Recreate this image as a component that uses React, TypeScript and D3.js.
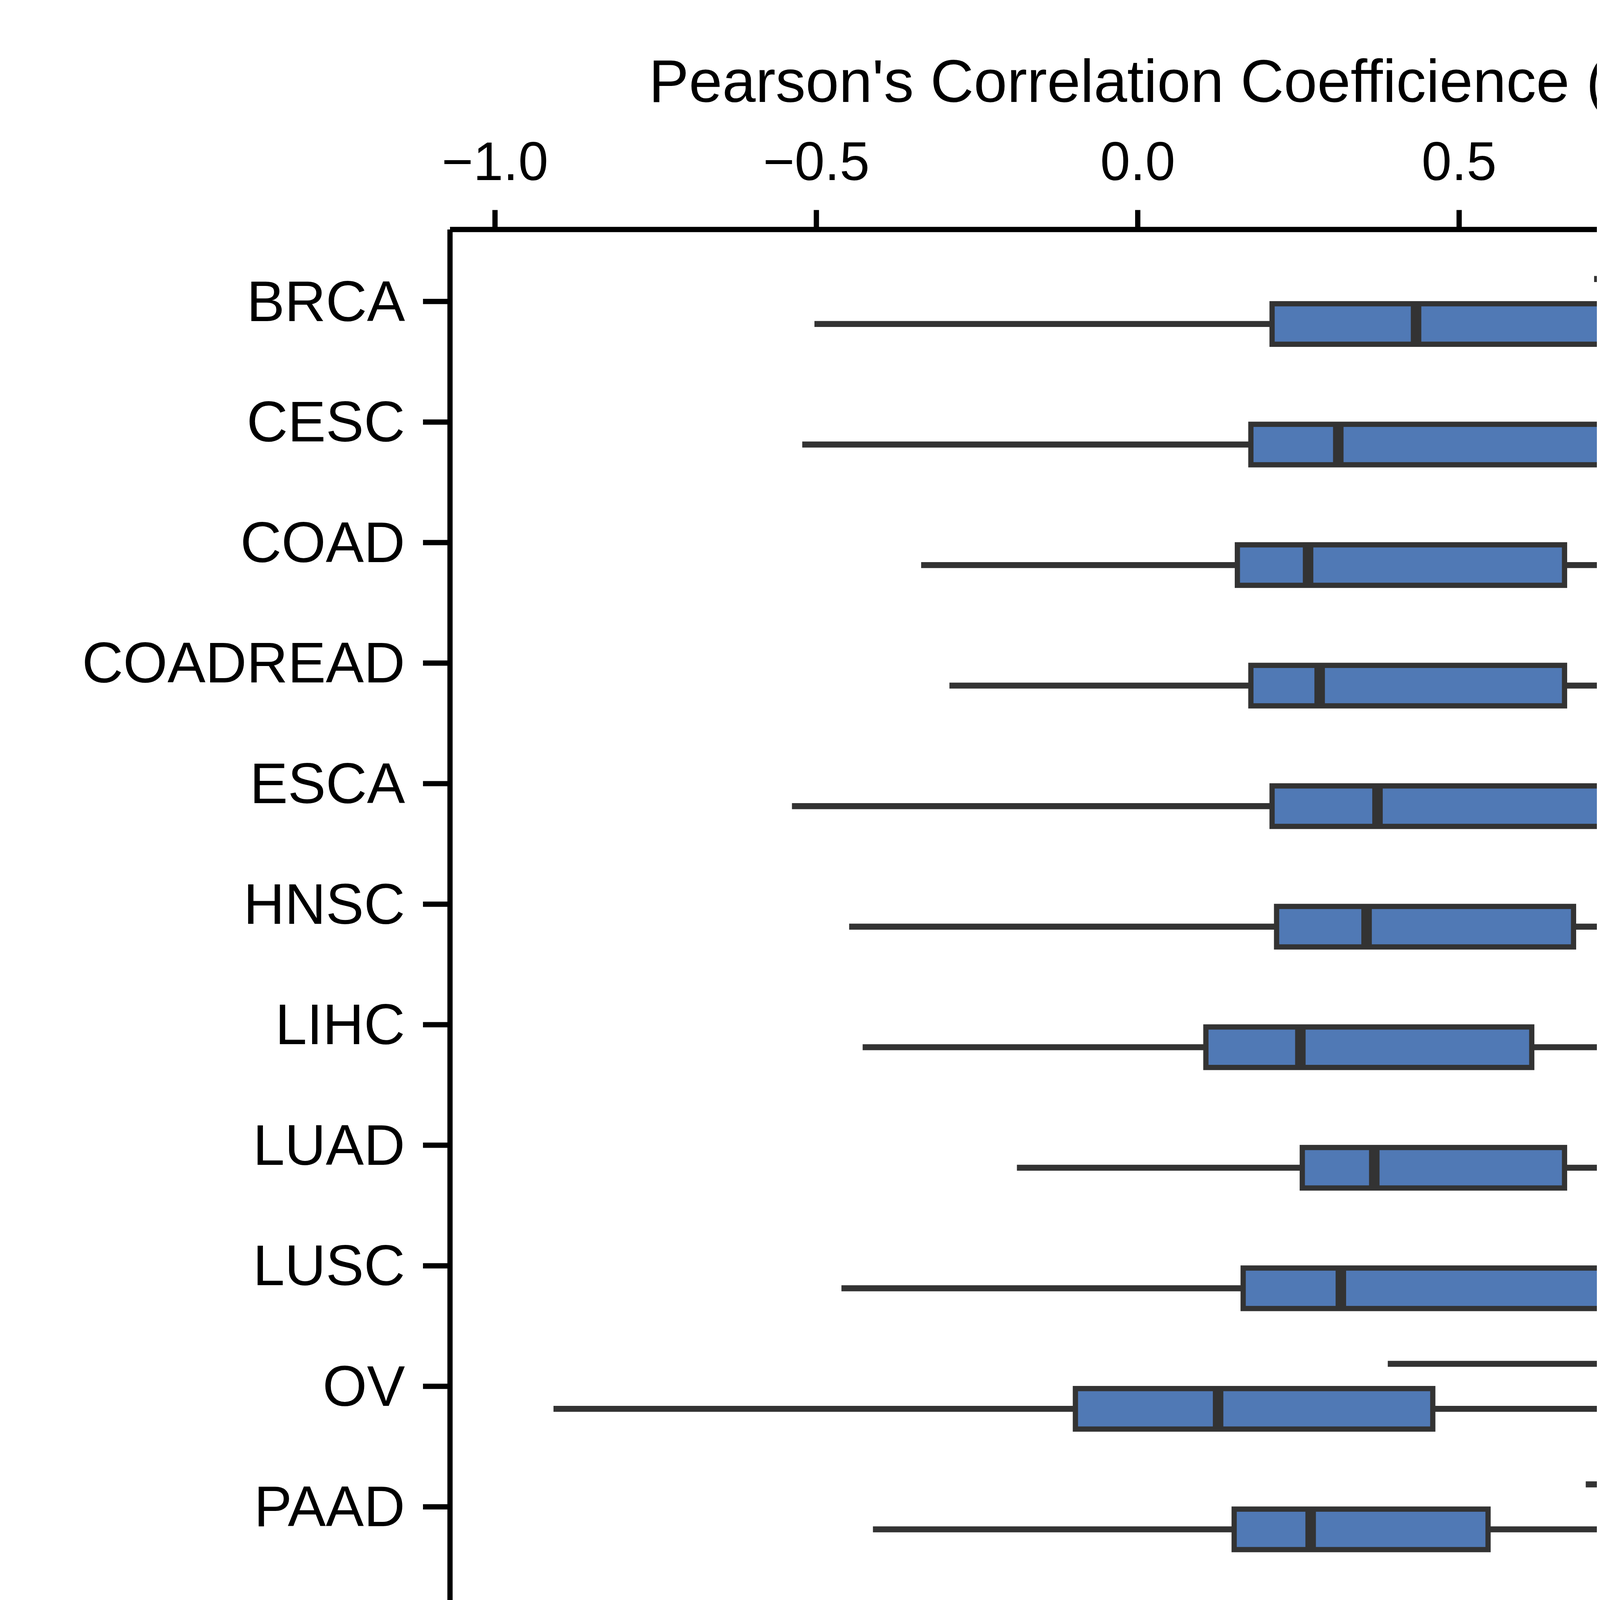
import React from "react";
import * as d3 from "d3";

const categories = ["BRCA","CESC","COAD","COADREAD","ESCA","HNSC","LIHC","LUAD","LUSC","OV","PAAD","READ","STAD","STES","THCA"];
// [whiskerLow, q1, median, q3, whiskerHigh]
const ctMHB = [
  [0.71,0.858,0.925,0.958,0.995],[0.764,0.879,0.921,0.963,0.995],[0.734,0.867,0.921,0.956,0.995],
  [0.739,0.867,0.918,0.956,0.995],[0.781,0.893,0.932,0.967,0.998],[0.788,0.886,0.925,0.953,0.995],
  [0.736,0.867,0.918,0.949,0.995],[0.755,0.874,0.921,0.958,0.995],[0.825,0.909,0.937,0.97,0.998],
  [0.389,0.743,0.942,0.986,0.998],[0.697,0.841,0.907,0.946,0.99],[0.697,0.851,0.916,0.956,0.995],
  [0.828,0.909,0.935,0.967,0.998],[0.834,0.916,0.939,0.972,0.998],[-0.106,0.51,0.818,0.928,0.99],
];
const ngMHB = [
  [-0.503,0.209,0.433,0.741,1],[-0.522,0.176,0.312,0.737,1],[-0.337,0.155,0.265,0.664,1],
  [-0.293,0.176,0.283,0.664,1],[-0.538,0.209,0.373,0.826,1],[-0.449,0.216,0.356,0.678,1],
  [-0.428,0.106,0.253,0.613,1],[-0.188,0.256,0.368,0.664,1],[-0.461,0.164,0.316,0.72,1],
  [-0.909,-0.097,0.125,0.459,1],[-0.412,0.15,0.269,0.545,1],[-0.328,0.225,0.368,0.594,1],
  [-0.542,0.258,0.484,0.874,1],[-0.489,0.249,0.473,0.879,1],[-0.225,0.137,0.232,0.393,0.781],
];
const xTicks = [-1, -0.5, 0, 0.5, 1];
const BLUE = "#5079B5", RED = "#C6201F", STROKE = "#333333";
const FONT = "'Liberation Sans', Arial, sans-serif";

export default function App() {
  const x = d3.scaleLinear().domain([-1, 1]).range([330, 1187]);
  const y = d3.scalePoint<string>().domain(categories).range([201, 1326]);
  const fmt = (v: number) => (v < 0 ? "\u2212" : "") + Math.abs(v).toFixed(1);
  const box = (d: number[], cy: number, fill: string, key: string) => (
    <g key={key}>
      <line x1={x(d[0])} x2={x(d[1])} y1={cy} y2={cy} stroke={STROKE} strokeWidth={4} />
      <line x1={x(d[3])} x2={x(d[4])} y1={cy} y2={cy} stroke={STROKE} strokeWidth={4} />
      <rect x={x(d[1])} y={cy - 13.5} width={x(d[3]) - x(d[1])} height={27} fill={fill} stroke={STROKE} strokeWidth={3.5} />
      <line x1={x(d[2])} x2={x(d[2])} y1={cy - 13.5} y2={cy + 13.5} stroke={STROKE} strokeWidth={7} />
    </g>
  );
  const legendKey = (lx: number, fill: string) => (
    <g>
      <line x1={lx + 28} x2={lx + 28} y1={1450} y2={1515} stroke={STROKE} strokeWidth={3} />
      <rect x={lx} y={1463} width={56} height={38} fill={fill} stroke={STROKE} strokeWidth={3.5} />
      <line x1={lx} x2={lx + 56} y1={1482} y2={1482} stroke={STROKE} strokeWidth={3.5} />
    </g>
  );
  return (
    <div style={{ margin: -8, width: 4800, height: 6000, overflow: "hidden" }}>
      <svg width={4800} height={6000} viewBox="0 0 1250 1562.5" style={{ display: "block" }} fontFamily={FONT}>
        <rect width={1250} height={1562.5} fill="#fff" />
        <text x={765} y={68} fontSize={40} textAnchor="middle" fill="#000">Pearson's Correlation Coefficience (r)</text>
        <line x1={300} x2={1230} y1={153} y2={153} stroke="#000" strokeWidth={3.5} />
        {xTicks.map((t) => (
          <g key={t}>
            <line x1={x(t)} x2={x(t)} y1={153} y2={140} stroke="#000" strokeWidth={3.5} />
            <text x={x(t)} y={120} fontSize={36} textAnchor="middle" fill="#000">{fmt(t)}</text>
          </g>
        ))}
        <line x1={300} x2={300} y1={153} y2={1373} stroke="#000" strokeWidth={3.5} />
        {categories.map((c, i) => (
          <g key={c}>
            <line x1={282} x2={300} y1={y(c)!} y2={y(c)!} stroke="#000" strokeWidth={3.5} />
            <text x={270} y={y(c)! + 13} fontSize={38} textAnchor="end" fill="#000">{c}</text>
            {box(ctMHB[i], y(c)! - 15, RED, "r" + c)}
            {box(ngMHB[i], y(c)! + 15, BLUE, "b" + c)}
          </g>
        ))}
        <text x={412} y={1500} fontSize={44} fill="#000">Group</text>
        {legendKey(578, BLUE)}
        <text x={668} y={1496} fontSize={36} fill="#000">NG_MHB</text>
        {legendKey(870, RED)}
        <text x={958} y={1496} fontSize={36} fill="#000">CT_MHB</text>
      </svg>
    </div>
  );
}
